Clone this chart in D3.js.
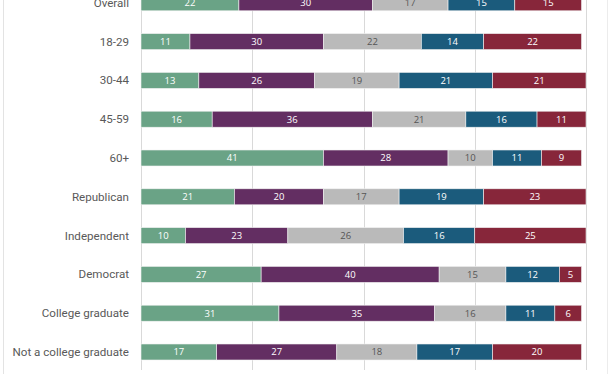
<!DOCTYPE html>
<html>
<head>
<meta charset="utf-8">
<script src="https://cdn.jsdelivr.net/npm/d3@7"></script>
<style>
  body { margin: 0; background: #fff; }
  svg { display: block; }
</style>
</head>
<body>
<div id="chart"></div>
<script>
var svgWidth = 612;
var svgHeight = 374;

// rows, top to bottom
var groups = ["Overall", "18-29", "30-44", "45-59", "60+", "Republican", "Independent",
  "Democrat", "College graduate", "Not a college graduate"];

// five answer categories, left to right
var seg1 = [22, 11, 13, 16, 41, 21, 10, 27, 31, 17];
var seg2 = [30, 30, 26, 36, 28, 20, 23, 40, 35, 27];
var seg3 = [17, 22, 19, 21, 10, 17, 26, 15, 16, 18];
var seg4 = [15, 14, 21, 16, 11, 19, 16, 12, 11, 17];
var seg5 = [15, 22, 21, 11, 9, 23, 25, 5, 6, 20];

var gridTicks = [0, 25, 50, 75, 100];

var colors = ["#6aa386", "#632e62", "#bababa", "#1b5b7c", "#87263a"];
var textColors = ["#fff", "#fff", "#555", "#fff", "#fff"];

var series = [seg1, seg2, seg3, seg4, seg5];

var svg = d3.select("#chart")
  .append("svg")
  .attr("width", svgWidth)
  .attr("height", svgHeight);

var xScale = d3.scaleLinear()
  .domain([0, 100])
  .range([141, 586]);

var yScale = d3.scalePoint()
  .domain(groups)
  .range([-16.6, 371.4])
  .padding(0.5);

var barH = 16;

// frame lines
svg.append("line")
  .attr("x1", 3.5).attr("x2", 3.5)
  .attr("y1", 0).attr("y2", 374)
  .attr("stroke", "#e3e3e3");
svg.append("line")
  .attr("x1", 607.5).attr("x2", 607.5)
  .attr("y1", 0).attr("y2", 374)
  .attr("stroke", "#ececec");

// gridlines
svg.append("g")
  .selectAll("line")
  .data(gridTicks)
  .enter()
  .append("line")
  .attr("x1", d => Math.round(xScale(d)) + 0.5)
  .attr("x2", d => Math.round(xScale(d)) + 0.5)
  .attr("y1", 0)
  .attr("y2", 370)
  .attr("stroke", "#d9d9d9")
  .attr("stroke-width", 1);

// stack the rows
var rows = groups.map(function(g, i) {
  var x0 = 0;
  return series.map(function(s, k) {
    var seg = { group: g, k: k, value: s[i], x0: x0, x1: x0 + s[i] };
    x0 += s[i];
    return seg;
  });
});

var rowG = svg.selectAll(".row")
  .data(rows)
  .enter()
  .append("g")
  .attr("class", "row");

rowG.selectAll("rect")
  .data(d => d)
  .enter()
  .append("rect")
  .attr("x", d => xScale(d.x0))
  .attr("width", d => xScale(d.x1) - xScale(d.x0))
  .attr("y", d => yScale(d.group) - barH / 2)
  .attr("height", barH)
  .attr("fill", d => colors[d.k])
  .attr("stroke", "#f2f2f2")
  .attr("stroke-width", 0.6);

rowG.selectAll("text")
  .data(d => d)
  .enter()
  .append("text")
  .attr("x", d => (xScale(d.x0) + xScale(d.x1)) / 2)
  .attr("y", d => yScale(d.group))
  .attr("dy", "0.35em")
  .attr("text-anchor", "middle")
  .attr("font-family", "'Open Sans', sans-serif")
  .attr("font-size", "9.5px")
  .attr("fill", d => textColors[d.k])
  .text(d => d.value);

// category labels
svg.append("g")
  .selectAll("text")
  .data(groups)
  .enter()
  .append("text")
  .attr("x", 129)
  .attr("y", d => yScale(d))
  .attr("dy", "0.35em")
  .attr("text-anchor", "end")
  .attr("font-family", "Roboto, sans-serif")
  .attr("font-size", "11.6px")
  .attr("fill", "#595959")
  .text(d => d);
</script>
</body>
</html>
